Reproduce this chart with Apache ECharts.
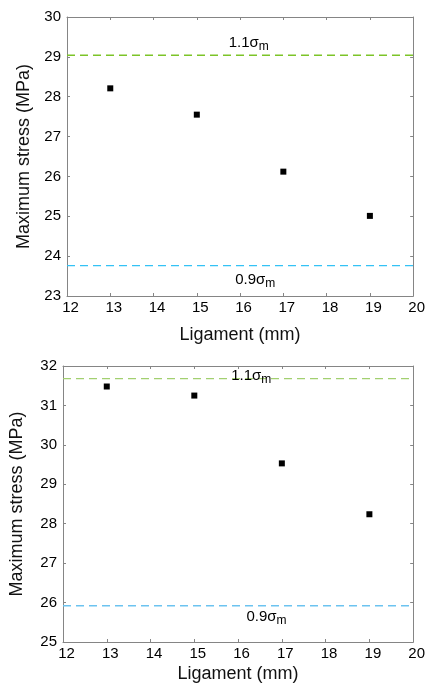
<!DOCTYPE html>
<html>
<head>
<meta charset="utf-8">
<script src="https://cdn.jsdelivr.net/npm/echarts@6/dist/echarts.min.js"></script>
<style>
  html, body { margin: 0; padding: 0; background: #fff; overflow: hidden; }
  #chart { width: 428px; height: 684px; }
</style>
</head>
<body>
<div id="chart"></div>
<script>
// Ligament lengths (mm)
const ligament = [13, 15, 17, 19];
// Maximum stress (MPa) for the two panels
const stressTop = [28.21, 27.55, 26.12, 25.01];
const stressBottom = [31.48, 31.25, 29.53, 28.24];
// Limit lines (1.1 and 0.9 times the mean strength)
const upperLimit = [29.04, 31.68];
const lowerLimit = [23.76, 25.92];
const upperText = '1.1σ';
const lowerText = '0.9σ';
const subText = 'm';
// Axis ranges per panel
const xRange = [12, 20];
const yRanges = [[23, 30], [25, 32]];
// Annotation anchors [x, y] in data units
const upperAnchor = [[16.2, 29.33], [16.3, 31.72]];
const lowerAnchor = [[16.35, 23.38], [16.65, 25.6]];

const FONT = '"Liberation Sans", Arial, sans-serif';
const AXIS_GRAY = '#858585';
const greens = ['#7cc428', '#a2d070'];
const blues = ['#34c2f5', '#6cc3f0'];

const grids = [
  { left: 67, top: 17, width: 353, height: 279 },
  { left: 63, top: 366, width: 357, height: 277 }
];
const yNameGap = [33, 37];
const xNameGap = [30, 23];

const xAxes = [], yAxes = [], series = [];

grids.forEach((g, i) => {
  // bottom & left axes carry labels
  xAxes.push({
    gridIndex: i, type: 'value', min: xRange[0], max: xRange[1], interval: 1,
    name: 'Ligament (mm)', nameLocation: 'middle', nameGap: xNameGap[i],
    nameTextStyle: { fontFamily: FONT, fontSize: 18, color: '#111' },
    axisLine: { show: true, onZero: false, lineStyle: { color: AXIS_GRAY, width: 1 } },
    axisTick: { show: true, inside: true, length: 3, lineStyle: { color: AXIS_GRAY } },
    axisLabel: { fontFamily: FONT, fontSize: 15, color: '#000', margin: 4, padding: [0, 0, 0, 7] },
    splitLine: { show: false }
  });
  // mirrored top axis (ticks only)
  xAxes.push({
    gridIndex: i, type: 'value', position: 'top', min: xRange[0], max: xRange[1], interval: 1,
    axisLine: { show: true, onZero: false, lineStyle: { color: AXIS_GRAY, width: 1 } },
    axisTick: { show: true, inside: true, length: 3, lineStyle: { color: AXIS_GRAY } },
    axisLabel: { show: false }, splitLine: { show: false }
  });
  yAxes.push({
    gridIndex: i, type: 'value', min: yRanges[i][0], max: yRanges[i][1], interval: 1,
    name: 'Maximum stress (MPa)', nameLocation: 'middle', nameGap: yNameGap[i],
    nameTextStyle: { fontFamily: FONT, fontSize: 18, color: '#111' },
    axisLine: { show: true, onZero: false, lineStyle: { color: AXIS_GRAY, width: 1 } },
    axisTick: { show: true, inside: true, length: 3, lineStyle: { color: AXIS_GRAY } },
    axisLabel: { fontFamily: FONT, fontSize: 15, color: '#000', margin: 6 },
    splitLine: { show: false }
  });
  yAxes.push({
    gridIndex: i, type: 'value', position: 'right', min: yRanges[i][0], max: yRanges[i][1], interval: 1,
    axisLine: { show: true, onZero: false, lineStyle: { color: AXIS_GRAY, width: 1 } },
    axisTick: { show: true, inside: true, length: 3, lineStyle: { color: AXIS_GRAY } },
    axisLabel: { show: false }, splitLine: { show: false }
  });

  const xi = i * 2, yi = i * 2;
  const values = i === 0 ? stressTop : stressBottom;

  // dashed limit lines
  series.push({
    type: 'line', xAxisIndex: xi, yAxisIndex: yi, symbol: 'none', silent: true,
    data: [[xRange[0], upperLimit[i]], [xRange[1], upperLimit[i]]],
    lineStyle: { color: greens[i], width: 1.3, type: [8, 5], opacity: 1 }, z: 1
  });
  series.push({
    type: 'line', xAxisIndex: xi, yAxisIndex: yi, symbol: 'none', silent: true,
    data: [[xRange[0], lowerLimit[i]], [xRange[1], lowerLimit[i]]],
    lineStyle: { color: blues[i], width: 1.3, type: [8, 5], opacity: 1 }, z: 1
  });

  // measured points
  series.push({
    type: 'scatter', xAxisIndex: xi, yAxisIndex: yi, symbol: 'rect', symbolSize: 6,
    itemStyle: { color: '#000', opacity: 1 },
    data: ligament.map((l, k) => [l, values[k]]), z: 3
  });

  // limit annotations
  const rich = {
    main: { fontFamily: FONT, fontSize: 15, color: '#000', lineHeight: 17, verticalAlign: 'top' },
    sub: { fontFamily: FONT, fontSize: 12, color: '#000', lineHeight: 13, verticalAlign: 'bottom', padding: [8, 0, 0, 0] }
  };
  [[upperAnchor[i], upperText], [lowerAnchor[i], lowerText]].forEach(([pt, txt]) => {
    series.push({
      type: 'scatter', xAxisIndex: xi, yAxisIndex: yi, symbolSize: 0, silent: true, z: 4,
      itemStyle: { opacity: 1 },
      data: [pt],
      label: {
        show: true, position: 'inside', align: 'center', verticalAlign: 'middle', opacity: 1,
        formatter: '{main|' + txt + '}{sub|' + subText + '}', rich: rich
      }
    });
  });
});

const chart = echarts.init(document.getElementById('chart'), null, { renderer: 'canvas' });
chart.setOption({
  animation: false,
  backgroundColor: '#fff',
  grid: grids.map(g => Object.assign({ containLabel: false }, g)),
  xAxis: xAxes,
  yAxis: yAxes,
  series: series
});
</script>
</body>
</html>
